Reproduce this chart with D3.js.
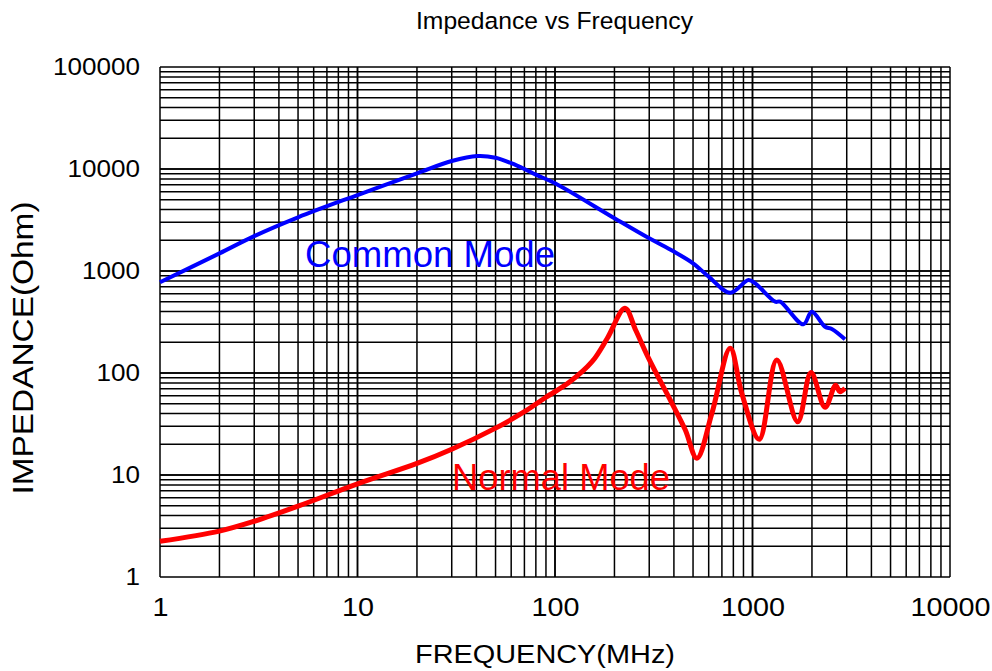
<!DOCTYPE html>
<html><head><meta charset="utf-8">
<script src="https://cdn.jsdelivr.net/npm/d3@7"></script>
<style>body{margin:0;background:#fff}svg{display:block}text{font-family:"Liberation Sans",Arial,sans-serif}</style>
</head><body><svg id="c" width="992" height="671"></svg>
<script>
const xTicks = [1, 10, 100, 1000, 10000];
const yTicks = [1, 10, 100, 1000, 10000, 100000];
const cmFreq = [1, 2, 3, 5, 10, 20, 30, 40.5, 50, 60, 70, 80, 100, 200, 300, 400, 500, 600, 771, 955, 1032, 1303, 1380, 1810, 1995, 2330, 2520, 2940];
const cmZ    = [775, 1490, 2200, 3360, 5560, 9070, 11970, 13400, 12900, 11400, 10000, 8800, 7250, 3290, 2090, 1550, 1190, 880, 613, 816, 757, 500, 500, 300, 399, 284, 270, 214];
const nmFreq = [1, 2, 3, 5, 10, 20, 30, 50, 70, 90, 118, 154, 184, 226, 256, 298, 391, 457, 523, 623, 771, 883, 1082, 1327, 1693, 1978, 2330, 2635, 2770, 2940];
const nmZ    = [2.24, 2.82, 3.52, 4.95, 8.2, 13.0, 17.9, 28.8, 41.7, 57.8, 81, 129, 219, 431, 264, 139, 50.5, 27.6, 14.6, 40.3, 175, 63, 22.4, 134, 33.3, 101, 46.1, 76, 65.6, 70.8];

const FONT = '"Liberation Sans",Arial,sans-serif';
const svg = d3.select("#c");
const L = 160, R = 950, T = 67, B = 577;
const x = d3.scaleLog().domain([1, 10000]).range([L, R]);
const y = d3.scaleLog().domain([1, 100000]).range([B, T]);

// grid
const xg = [], yg = [];
for (let d = 1; d < 10000; d *= 10) for (let k = 1; k <= 10; k++) xg.push(d * k);
for (let d = 1; d < 100000; d *= 10) for (let k = 1; k <= 10; k++) yg.push(d * k);
const g = svg.append("g").attr("stroke", "#000").attr("stroke-width", 1.5);
g.selectAll(".vx").data(xg).join("line").attr("x1", d => x(d)).attr("x2", d => x(d)).attr("y1", T).attr("y2", B);
g.selectAll(".hy").data(yg).join("line").attr("y1", d => y(d)).attr("y2", d => y(d)).attr("x1", L).attr("x2", R);

const fmt = d => String(d);
const ax = svg.append("g").attr("transform", `translate(0,${B})`)
  .call(d3.axisBottom(x).tickValues(xTicks).tickFormat(fmt).tickSize(0).tickPadding(21));
ax.select(".domain").remove();
ax.selectAll("text").attr("font-size", 25).attr("fill", "#000").style("font-family", FONT)
  .attr("textLength", d => String(d).length * 16).attr("lengthAdjust", "spacingAndGlyphs");
const ay = svg.append("g").attr("transform", `translate(${L},0)`)
  .call(d3.axisLeft(y).tickValues(yTicks).tickFormat(fmt).tickSize(0).tickPadding(20));
ay.select(".domain").remove();
ay.selectAll("text").attr("font-size", 24).attr("fill", "#000").style("font-family", FONT)
  .attr("textLength", d => String(d).length * 14.5).attr("lengthAdjust", "spacingAndGlyphs");

// curves
const line = (fs, zs) => d3.line().x((d, i) => x(fs[i])).y((d, i) => y(zs[i])).curve(d3.curveCatmullRom.alpha(0.5))(fs);
svg.append("path").attr("d", line(cmFreq, cmZ)).attr("fill", "none").attr("stroke", "#0000ff").attr("stroke-width", 4).attr("stroke-linejoin", "round");
svg.append("path").attr("d", line(nmFreq, nmZ)).attr("fill", "none").attr("stroke", "#ff0000").attr("stroke-width", 5).attr("stroke-linejoin", "round");

// texts
svg.append("text").attr("x", 305).attr("y", 267).attr("font-size", 36).attr("fill", "#0000ff")
  .attr("textLength", 250).attr("lengthAdjust", "spacingAndGlyphs").text("Common Mode");
svg.append("text").attr("x", 452).attr("y", 490).attr("font-size", 36).attr("fill", "#ff0000")
  .attr("textLength", 218).attr("lengthAdjust", "spacingAndGlyphs").text("Normal Mode");
svg.append("text").attr("x", 554.5).attr("y", 29).attr("text-anchor", "middle").attr("font-size", 24.5)
  .attr("textLength", 277).attr("lengthAdjust", "spacingAndGlyphs").text("Impedance vs Frequency");
svg.append("text").attr("x", 545).attr("y", 663).attr("text-anchor", "middle").attr("font-size", 26)
  .attr("textLength", 260).attr("lengthAdjust", "spacingAndGlyphs").text("FREQUENCY(MHz)");
svg.append("text").attr("transform", "translate(33,348) rotate(-90)").attr("text-anchor", "middle").attr("font-size", 29)
  .attr("textLength", 293).attr("lengthAdjust", "spacingAndGlyphs").text("IMPEDANCE(Ohm)");
</script></body></html>
